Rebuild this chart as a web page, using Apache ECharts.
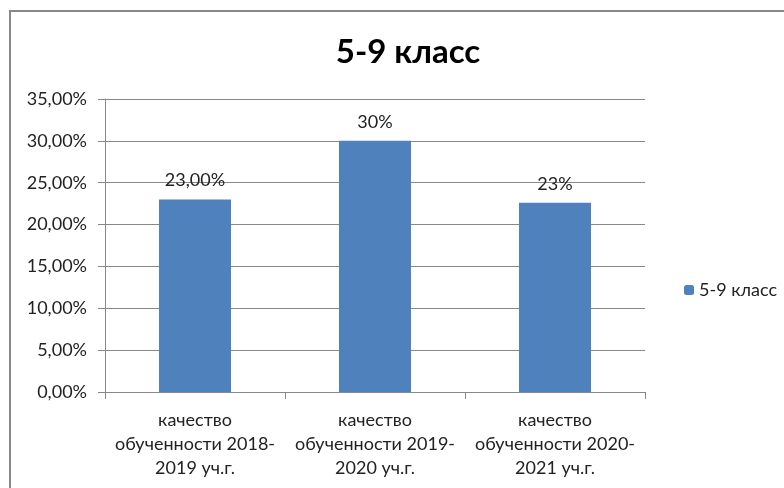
<!DOCTYPE html>
<html>
<head>
<meta charset="utf-8">
<script src="https://cdn.jsdelivr.net/npm/echarts@6/dist/echarts.min.js"></script>
<style>
  html, body { margin: 0; padding: 0; background: #fff; }
  #chart { width: 784px; height: 488px; }
</style>
</head>
<body>
<div id="chart"></div>
<script>
  // данные
  var categories = [
    'качество\nобученности 2018-\n2019 уч.г.',
    'качество\nобученности 2019-\n2020 уч.г.',
    'качество\nобученности 2020-\n2021 уч.г.'
  ];
  var values = [23, 30, 22.6];
  var valueLabels = ['23,00%', '30%', '23%'];
  var seriesName = '5-9 класс';

  var myChart = echarts.init(document.getElementById('chart'));

  var options = {
    animation: false,
    textStyle: { fontFamily: 'Lato' },
    graphic: [{
      type: 'rect',
      shape: { x: 10, y: 11, width: 800, height: 500 },
      style: { fill: 'none', stroke: '#888', lineWidth: 2 }
    }],
    title: {
      text: '5-9 класс',
      left: 403,
      top: 31,
      textAlign: 'center',
      textStyle: { fontSize: 33, fontWeight: 'bold', color: '#000', fontFamily: 'Lato' }
    },
    legend: {
      data: [seriesName],
      orient: 'vertical',
      left: 679,
      top: 276,
      itemWidth: 10,
      itemHeight: 10,
      itemGap: 6,
      textStyle: { fontSize: 18, color: '#222', fontFamily: 'Lato' }
    },
    grid: { left: 105, right: 139, top: 99, bottom: 96 },
    xAxis: {
      type: 'category',
      data: categories,
      axisLine: { lineStyle: { color: '#888' } },
      axisTick: { show: true, length: 7, lineStyle: { color: '#888' } },
      axisLabel: {
        interval: 0, margin: 16, lineHeight: 24,
        fontSize: 18, color: '#222', fontFamily: 'Lato'
      }
    },
    yAxis: {
      type: 'value',
      min: 0, max: 35, interval: 5,
      axisLine: { show: true, lineStyle: { color: '#888' } },
      axisTick: { show: true, length: 7, lineStyle: { color: '#888' } },
      splitLine: { lineStyle: { color: '#888' } },
      axisLabel: {
        margin: 18, fontSize: 18, color: '#222', fontFamily: 'Lato',
        formatter: function (v) { return v.toFixed(2).replace('.', ',') + '%'; }
      }
    },
    series: [{
      name: seriesName,
      type: 'bar',
      data: values,
      barWidth: '40%',
      itemStyle: { color: '#4F81BD' },
      label: {
        show: true, position: 'top', distance: 10,
        fontSize: 18, color: '#222', fontFamily: 'Lato',
        formatter: function (p) { return valueLabels[p.dataIndex]; }
      }
    }]
  };
  myChart.setOption(options, true);
</script>
</body>
</html>
